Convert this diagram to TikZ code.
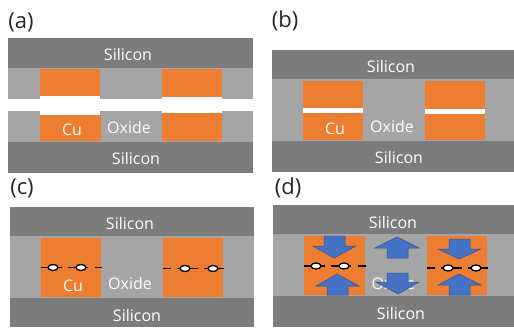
\documentclass[tikz,border=0pt]{standalone}
\usepackage{fontspec}
\setmainfont{Open Sans}
\definecolor{siliconc}{RGB}{124,124,124}
\definecolor{oxidec}{RGB}{165,165,165}
\definecolor{cuc}{RGB}{237,125,49}
\definecolor{arrowc}{RGB}{68,114,196}
\definecolor{arrowe}{RGB}{47,82,143}
\tikzset{
	silicon/.style={fill=siliconc},
	oxide/.style={fill=oxidec},
	copper/.style={fill=cuc},
	gap/.style={fill=white},
	lbl/.style={text=white,font=\fontsize{16}{18}\selectfont,inner sep=0pt},
	panel/.style={text=black!85,font=\fontsize{22}{24}\selectfont,inner sep=0pt},
	crack/.style={line width=1.4pt,black},
	void/.style={draw=black,line width=1.3pt,fill=white},
	push/.style={fill=arrowc,draw=arrowe,line width=0.5pt,line join=miter}
}
\begin{document}
\begin{tikzpicture}[line cap=butt,line join=round,x=1pt,y=-1pt]
			\useasboundingbox (0,0) rectangle (514,327);
			% Panel a
			\node[panel] (a) at (21,22) {(a)};
			\fill[silicon] (8,38) rectangle (253,67.5);
			\fill[oxide] (8,67.5) rectangle (253,100);
			\fill[gap] (8,99) rectangle (253,111);
			\fill[oxide] (8,111) rectangle (253,142);
			\fill[silicon] (8,142) rectangle (253,173);
			\fill[copper] (39.5,69) rectangle (100,96);
			\fill[copper] (162,69) rectangle (221.5,97);
			\fill[gap] (39.5,96) rectangle (100,115);
			\fill[gap] (162,97) rectangle (221.5,113);
			\fill[copper] (40,115) rectangle (100.5,141);
			\fill[copper] (162,113) rectangle (222,141);
			\node[lbl] (a top) at (128,54) {Silicon};
			\node[lbl] (a cu) at (72,130) {Cu};
			\node[lbl] (a ox) at (129,127) {Oxide};
			\node[lbl] (a bot) at (136,158) {Silicon};
			% Panel b
			\node[panel] (b) at (285,21) {(b)};
			\fill[silicon] (272,49.5) rectangle (514,79);
			\fill[oxide] (272,79) rectangle (514,141);
			\fill[silicon] (272,141) rectangle (514,171.5);
			\fill[copper] (302.5,81) rectangle (363,139.5);
			\fill[copper] (425,81) rectangle (485,139.5);
			\fill[gap] (303,108) rectangle (363,113);
			\fill[gap] (425,109) rectangle (485,114);
			\node[lbl] (b top) at (391,66) {Silicon};
			\node[lbl] (b cu) at (335,129) {Cu};
			\node[lbl] (b ox) at (392,126) {Oxide};
			\node[lbl] (b bot) at (399,157) {Silicon};
			% Panel c
			\node[panel] (c) at (22,188) {(c)};
			\fill[silicon] (10,207) rectangle (254,236);
			\fill[oxide] (10,236) rectangle (254,298);
			\fill[silicon] (10,298) rectangle (254,327);
			\fill[copper] (40.5,238) rectangle (101,297);
			\fill[copper] (163,238) rectangle (223,297);
			\draw[crack] (40.5,267.5)--(62,267.5) (68,267.5)--(87.5,267.5) (94.5,267.5)--(101.5,267.5);
			\draw[crack] (163,268.5)--(171,268.5) (176.5,268.5)--(198,268.5) (204,268.5)--(224,268.5);
			\draw[void] (53,267.5) ellipse (5 and 3);
			\draw[void] (81,267.5) ellipse (5 and 3);
			\draw[void] (185,268.5) ellipse (5 and 3);
			\draw[void] (213,268.5) ellipse (5 and 3);
			\node[lbl] (c top) at (130,223) {Silicon};
			\node[lbl] (c cu) at (73,286) {Cu};
			\node[lbl] (c ox) at (130,283) {Oxide};
			\node[lbl] (c bot) at (137,315) {Silicon};
			% Panel d
			\node[panel] (d) at (288,188) {(d)};
			\fill[silicon] (273,205) rectangle (514,234);
			\fill[oxide] (273,234) rectangle (514,296);
			\fill[silicon] (273,296) rectangle (514,327);
			\fill[copper] (304,236) rectangle (365,295);
			\fill[copper] (427,236) rectangle (487,295);
			\draw[crack] (304,266)--(325,266) (331,266)--(351,266) (358,266)--(365.5,266);
			\draw[crack] (427,268)--(435,268) (441,268)--(462,268) (468,268)--(488,268);
			\draw[void] (316,266) ellipse (5 and 3);
			\draw[void] (344,266) ellipse (5 and 3);
			\draw[void] (448,268) ellipse (5 and 3);
			\draw[void] (476,268) ellipse (5 and 3);
			\node[lbl] (d top) at (393,222) {Silicon};
			\node[lbl] (d ox) at (393.5,283) {Oxide};
			\node[lbl] (d bot) at (401,313) {Silicon};
			% Arrows
			\draw[push] (324,236)--(345,236)--(345,246)--(356,246)--(334,258)--(313,246)--(324,246)--cycle;
			\draw[push] (327,295)--(348,295)--(348,286)--(359,286)--(337,274)--(316,286)--(327,286)--cycle;
			\draw[push] (449,239)--(470,239)--(470,249)--(481,249)--(459,259)--(438,249)--(449,249)--cycle;
			\draw[push] (449,295)--(470,295)--(470,285)--(481,285)--(459,274)--(438,285)--(449,285)--cycle;
			\draw[push] (387,258)--(408,258)--(408,248)--(419,248)--(397,237)--(375,248)--(387,248)--cycle;
			\draw[push] (387,273)--(408,273)--(408,282)--(419,282)--(398,294)--(376,282)--(387,282)--cycle;
\end{tikzpicture}
\end{document}
